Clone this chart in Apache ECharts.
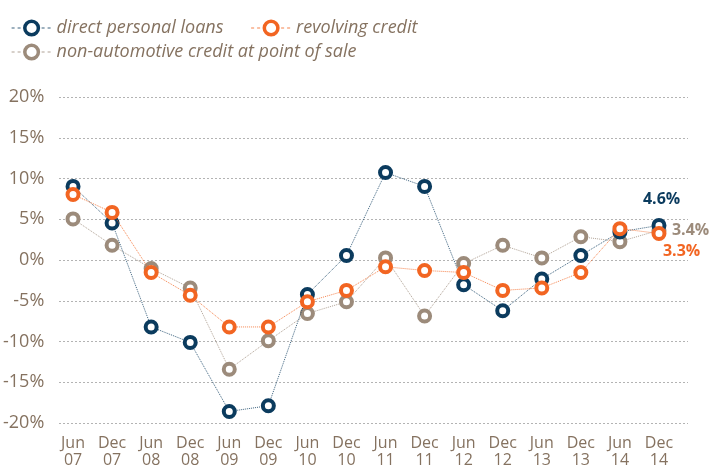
<!DOCTYPE html>
<html><head><meta charset="utf-8">
<script src="https://cdn.jsdelivr.net/npm/echarts@6/dist/echarts.min.js"></script>
<style>html,body{margin:0;padding:0;background:#fff}#c{width:713px;height:469px}</style>
</head><body><div id="c"></div>
<script>
const categories = ['Jun\n07','Dec\n07','Jun\n08','Dec\n08','Jun\n09','Dec\n09','Jun\n10','Dec\n10','Jun\n11','Dec\n11','Jun\n12','Dec\n12','Jun\n13','Dec\n13','Jun\n14','Dec\n14'];
const directPersonalLoans = [9.0, 4.5, -8.3, -10.2, -18.7, -18.0, -4.3, 0.5, 10.7, 9.0, -3.1, -6.3, -2.4, 0.5, 3.4, 4.2];
const revolvingCredit = [8.0, 5.8, -1.6, -4.4, -8.3, -8.3, -5.2, -3.8, -0.9, -1.35, -1.6, -3.8, -3.5, -1.6, 3.8, 3.2];
const nonAutomotive = [5.0, 1.75, -1.1, -3.5, -13.5, -10.0, -6.65, -5.2, 0.2, -6.95, -0.5, 1.75, 0.2, 2.8, 2.2, 3.6];
const seriesNames = ['direct personal loans', 'revolving credit', 'non-automotive credit at point of sale'];
const endLabels = ['4.6%', '3.3%', '3.4%'];
const yTicks = {min: -20, max: 20, interval: 5};

const NAVY = '#0b3b5e', ORANGE = '#f26522', TAUPE = '#9c8b7b', TXT = '#857260';
const FONT = "'Open Sans', 'Noto Sans', sans-serif";

function mk(name, data, color, z, lab, off) {
  return {
    name, type: 'line', data, xAxisIndex: 1, yAxisIndex: 1, z,
    symbol: 'circle', symbolSize: 11,
    itemStyle: {color: '#fff', borderColor: color, borderWidth: 4},
    lineStyle: {color: color, width: 1, type: 'dotted', opacity: 0.8},
    endLabel: {show: true, formatter: () => lab, color: color, fontWeight: 'bold',
      fontSize: 16, fontFamily: FONT, distance: 0, align: 'left', offset: off},
    emphasis: {disabled: true}, animation: false
  };
}

const legendText = {color: TXT, fontStyle: 'italic', fontSize: 18, fontFamily: FONT};
const chart = echarts.init(document.getElementById('c'));
chart.setOption({
  animation: false,
  legend: [{
    data: [seriesNames[0], seriesNames[1]], left: 6, top: 14, itemWidth: 40, itemHeight: 17, itemGap: 27,
    textStyle: legendText, itemStyle: {borderWidth: 3.5},
    lineStyle: {type: [3, 3], width: 1.2}
  }, {
    data: [seriesNames[2]], left: 6, top: 38, itemWidth: 40, itemHeight: 17,
    textStyle: legendText, itemStyle: {borderWidth: 3.5},
    lineStyle: {type: [3, 3], width: 1.2}
  }],
  grid: [
    {left: 59, right: 25, top: 97, bottom: 46},
    {left: 53.5, right: 34.5, top: 97, bottom: 46}
  ],
  xAxis: [
    {type: 'value', gridIndex: 0, show: false, min: 0, max: 1},
    {type: 'category', gridIndex: 1, data: categories, boundaryGap: true,
      axisLine: {show: false}, axisTick: {show: false},
      axisLabel: {color: TXT, fontSize: 16, fontFamily: FONT, lineHeight: 17, margin: 13, interval: 0}}
  ],
  yAxis: [
    {type: 'value', gridIndex: 0, min: yTicks.min, max: yTicks.max, interval: yTicks.interval,
      axisLine: {show: false}, axisTick: {show: false},
      axisLabel: {color: TXT, fontSize: 18, fontFamily: FONT, margin: 15, formatter: v => v + '%'},
      splitLine: {lineStyle: {color: '#9a9a9a', type: [1.5, 2.5], width: 1}}},
    {type: 'value', gridIndex: 1, min: yTicks.min, max: yTicks.max, interval: yTicks.interval, show: false,
      splitLine: {show: false}}
  ],
  series: [
    mk(seriesNames[0], directPersonalLoans, NAVY, 3, endLabels[0], [-16, -26]),
    mk(seriesNames[1], revolvingCredit, ORANGE, 4, endLabels[1], [4, 18]),
    mk(seriesNames[2], nonAutomotive, TAUPE, 2, endLabels[2], [13, 0])
  ]
});
</script></body></html>
